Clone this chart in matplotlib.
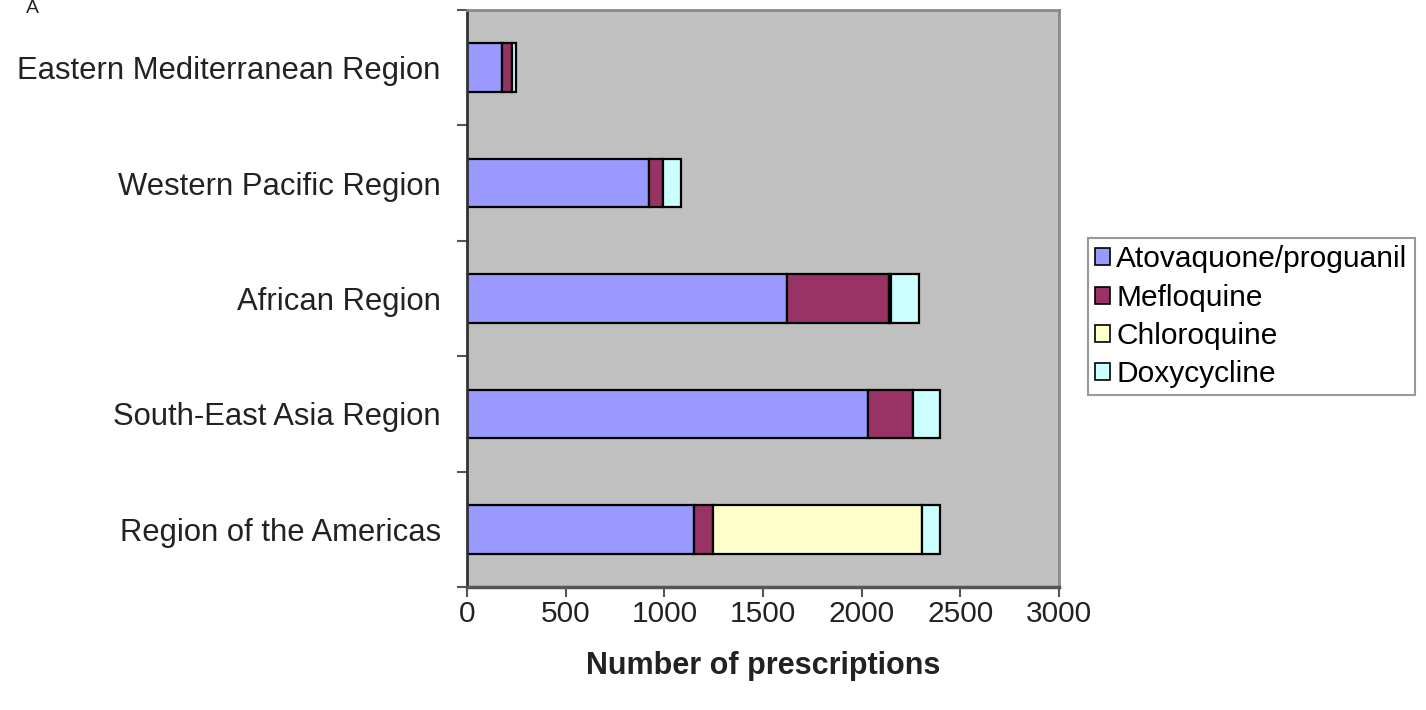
import matplotlib
matplotlib.use("Agg")
import matplotlib.pyplot as plt
import numpy as np

regions = [
    "Eastern Mediterranean Region",
    "Western Pacific Region",
    "African Region",
    "South-East Asia Region",
    "Region of the Americas",
]
drugs = ["Atovaquone/proguanil", "Mefloquine", "Chloroquine", "Doxycycline"]
atovaquone = [176, 924, 1623, 2034, 1152]
mefloquine = [51, 69, 513, 228, 95]
chloroquine = [0, 0, 10, 0, 1058]
doxycycline = [22, 92, 145, 134, 93]
x_ticks = [0, 500, 1000, 1500, 2000, 2500, 3000]

colors = ["#9999FF", "#993366", "#FFFFCC", "#CCFFFF"]

plt.rcParams["font.family"] = ["Liberation Sans", "DejaVu Sans"]

fig = plt.figure(figsize=(14.26, 7.10), dpi=100)
ax = fig.add_axes([0.3275, 0.1732, 0.4152, 0.8127])
ax.set_facecolor("#C0C0C0")

y = np.arange(len(regions))
left = np.zeros(len(regions))
for name, vals, col in zip(drugs, [atovaquone, mefloquine, chloroquine, doxycycline], colors):
    vals = np.array(vals, dtype=float)
    ax.barh(y, vals, left=left, height=0.42, color=col, edgecolor="black",
            linewidth=1.6, label=name)
    left += vals

ax.set_ylim(len(regions) - 0.5, -0.5)
ax.set_xlim(0, 3000)
ax.set_xticks(x_ticks)
ax.set_xticklabels([str(t) for t in x_ticks], fontsize=21.5, color="#222222")
ax.set_yticks(y)
ax.set_yticklabels(regions, fontsize=22.3, color="#222222")
ax.tick_params(axis="y", which="major", length=0, pad=19)
ax.set_yticks(np.arange(-0.5, len(regions) + 0.5, 1.0), minor=True)
ax.tick_params(axis="y", which="minor", length=7, width=1.5, color="#555555", direction="out")
ax.tick_params(axis="x", length=7, width=1.5, color="#555555", direction="out", pad=2)

for side in ["top", "right"]:
    ax.spines[side].set_color("#8A8A8A")
    ax.spines[side].set_linewidth(2)
ax.spines["left"].set_color("#333333")
ax.spines["left"].set_linewidth(2)
ax.spines["bottom"].set_color("#555555")
ax.spines["bottom"].set_linewidth(2.5)

ax.set_xlabel("Number of prescriptions", fontsize=22, fontweight="bold",
              color="#222222", labelpad=17)

leg = fig.legend(loc="upper left", bbox_to_anchor=(1088 / 1426, 1 - 238 / 710),
                 fontsize=21.5, frameon=True, fancybox=False, edgecolor="#808080",
                 handlelength=0.5, handleheight=0.5, handletextpad=0.2,
                 labelspacing=0.34, borderpad=0.25, borderaxespad=0)
leg.get_frame().set_linewidth(1.5)
for patch in leg.get_patches():
    patch.set_linewidth(1.2)

fig.text(32 / 1426, 1.0, "A", fontsize=14, ha="center", va="top", color="#222222")

fig.savefig("out.png", dpi=100, facecolor="white")
